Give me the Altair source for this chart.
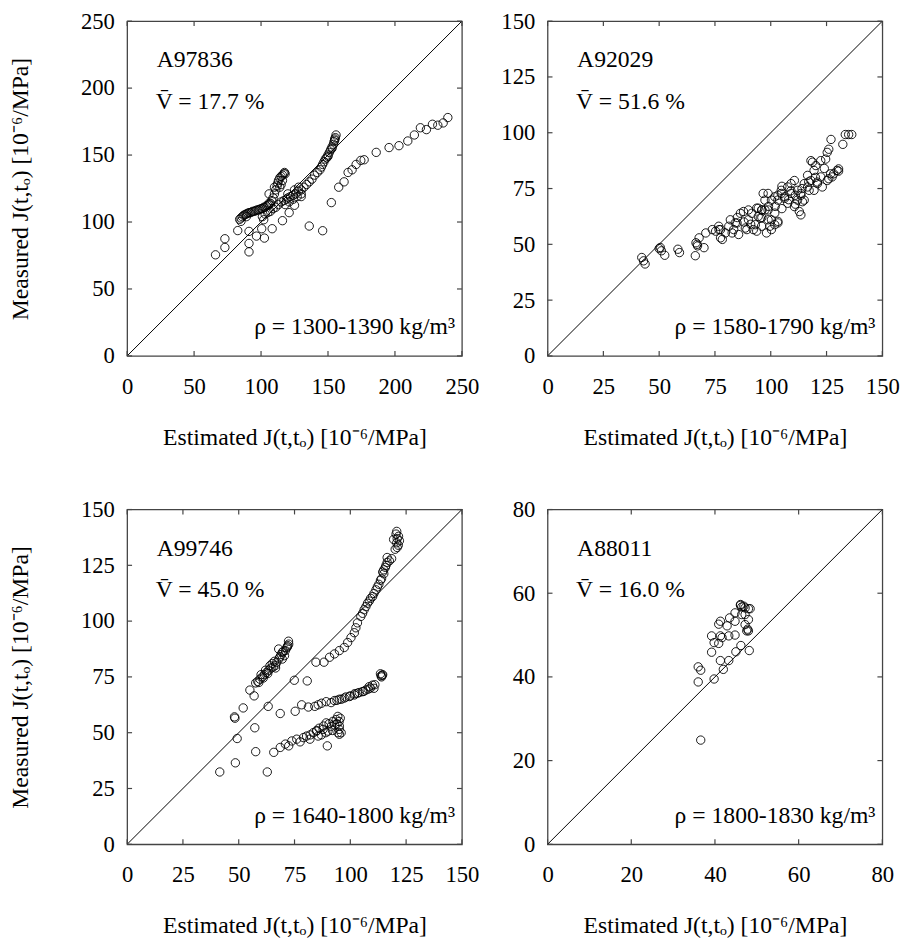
import altair as alt
import pandas as pd

FONT = "Liberation Serif"
FS = 23
FS_ANN = 24
FS_TITLE = 24
W = 340
H = 340
TICK_LEN = 5
FRAME = "#444444"

X_TITLE = "Estimated J(t,tₒ) [10⁻⁶/MPa]"
Y_TITLE = "Measured J(t,tₒ) [10⁻⁶/MPa]"

NAMES = ["A97836", "A92029", "A99746", "A88011"]
VBAR = ["17.7", "51.6", "45.0", "16.0"]
RHO = ["1300-1390", "1580-1790", "1640-1800", "1800-1830"]
DMAX = [250, 150, 150, 80]
TICKS = [
    [0, 50, 100, 150, 200, 250],
    [0, 25, 50, 75, 100, 125, 150],
    [0, 25, 50, 75, 100, 125, 150],
    [0, 20, 40, 60, 80],
]

# ---------------- Panel 1 (A97836) ----------------
P1_SCATTER = [
    (66, 75.5), (73, 81), (73, 87.5), (82.6, 93.6), (91, 77.7), (91, 84), (91, 93),
    (96.6, 89.5), (102.5, 88), (100.5, 95), (108.3, 95), (116, 101), (121, 107),
    (125, 112.5), (130, 119), (136, 97), (146, 93.5), (152.5, 114.5), (158, 126),
    (162, 130), (165, 137), (168, 139), (171, 143), (174.5, 146), (177, 146.5),
    (186, 152), (195.6, 155.6), (203, 157), (209.6, 160.5), (214.5, 165), (219, 170.4),
    (223.5, 169), (228, 173), (232, 172.3), (236, 174), (239.5, 178), (85, 100.5),
    (89, 104), (102, 101.7), (106, 114), (106, 121), (110, 126),
]
P1_BRANCH_A = [
    (84, 102), (85, 103), (86, 104), (87, 105), (88, 105.5), (89, 106), (90, 106.5),
    (91, 107), (92, 107), (93, 107.5), (94, 108), (95, 108), (96, 108.5), (97, 109),
    (98, 109), (99, 109.5), (100, 110), (101, 110), (102, 111), (103, 111), (104, 112),
    (105, 112.5), (106, 113), (107, 114), (108, 116), (109, 118), (110, 121), (111, 124),
    (112, 127), (112.5, 129), (113, 131), (114, 133), (115, 134), (116, 135), (117, 136),
    (117.5, 137), (118, 136), (116, 131), (115, 128), (114, 126),
]
P1_BRANCH_B = [
    (101, 104), (103, 106), (105, 107), (107, 108), (109, 110), (111, 111), (113, 113),
    (115, 115), (117, 116), (119, 117), (120, 118), (122, 119), (124, 120), (126, 121),
    (128, 123), (130, 124), (132, 126), (134, 128), (136, 130), (138, 132), (140, 135),
    (142, 137), (144, 139), (145, 141), (146, 143), (147, 145), (148, 147), (149, 148),
    (150, 150), (151, 152), (152, 154), (153, 156), (154, 158), (154.5, 160), (155, 162),
    (155.5, 163), (156, 165), (155, 161), (153, 155), (150, 149), (118, 113), (121, 115),
    (124, 117), (127, 119), (130, 121), (120, 121), (125, 124), (128, 126),
]

# ---------------- Panel 2 (A92029) ----------------
P2_LOW = [
    (42.2, 44.1), (43.0, 42.6), (43.7, 41.2), (50.0, 48.1), (51.0, 47.1), (52.5, 45.1),
    (50.5, 48.6), (58.4, 47.8), (59.1, 46.3), (66.5, 50.7), (67.2, 49.3), (66.2, 44.9),
    (70.1, 48.5), (67.9, 52.9), (70.9, 55.1), (67.0, 50.0),
]
P2_MID = [
    (75.3, 55.9), (77.5, 56.6), (76.7, 58.1), (78.3, 52.2), (79.7, 55.1), (81.2, 58.1),
    (81.9, 61.0), (83.4, 56.6), (84.1, 59.6), (85.6, 54.4), (86.4, 63.9), (87.8, 64.7),
    (88.6, 57.3), (90.0, 61.0), (91.5, 63.9), (92.2, 56.6), (93.7, 66.2), (93.1, 58.8),
    (95.3, 61.8), (96.1, 65.4), (96.6, 72.8), (73.8, 56.6), (76.8, 56.6), (77.5, 52.9),
    (82.7, 55.1), (84.9, 59.6), (89.3, 56.6), (90.0, 65.4), (93.7, 55.9), (94.4, 66.2),
    (97.4, 65.4), (98.1, 55.1), (98.8, 61.0), (100.3, 56.6), (101.8, 58.8), (103.2, 60.3),
    (85, 62), (88, 60), (91, 59), (96, 62),
]
P2_HIGH = [
    (98.8, 72.8), (97.4, 69.8), (95.9, 65.4), (94.4, 62.5), (98.8, 65.4), (101.8, 64.0),
    (100.3, 61.0), (103.2, 59.6), (99.6, 58.1), (95.9, 58.1), (112.0, 69.8), (114.2, 69.1),
    (112.8, 64.7), (110.6, 66.9), (107.6, 68.4), (106.2, 71.3), (104.7, 72.8), (103.2, 69.8),
    (101.8, 71.3), (113.5, 63.2), (110.6, 78.6), (109.1, 77.2), (107.6, 75.7), (116.5, 80.9),
    (115.0, 77.2), (117.2, 74.2), (113.5, 72.8), (122.4, 80.2), (120.9, 77.9), (123.1, 75.7),
    (128.2, 81.6), (129.7, 83.1), (130.4, 82.8), (127.5, 80.2), (126.0, 79.4), (118.7, 86.8),
    (120.2, 85.3), (119.4, 83.1), (124.6, 88.2), (126.0, 92.6), (125.3, 91.2), (127.0, 97.0),
    (132.3, 94.8), (133.4, 99.2), (134.9, 99.2), (136.3, 99.2), (100.3, 69.8), (103.2, 72.0),
    (104.7, 74.2), (106.2, 70.6), (109.1, 72.8), (112.0, 74.2), (113.5, 72.0), (115.0, 69.8),
    (116.5, 75.7), (118.0, 78.6), (119.4, 74.2), (120.9, 77.2), (118.0, 87.5), (122.4, 87.5),
    (125.3, 78.6), (126.8, 81.6), (130.4, 83.8), (99, 67), (102, 67), (105, 66), (108, 70),
    (111, 72), (114, 75), (117, 78), (120, 80), (124, 84), (105, 76), (109, 74), (111, 68),
]

# ---------------- Panel 3 (A99746) ----------------
P3_SCATTER = [
    (41.5, 32.4), (48.5, 36.5), (62.8, 32.4), (57.6, 41.5), (49.3, 47.4), (57.2, 52.2),
    (48.1, 57.1), (48.3, 56.5), (52, 61.1), (63.2, 61.8), (68.6, 58.6), (75.3, 59.6),
    (74.9, 73.5), (80.7, 73.2), (55, 69.1), (56.9, 66.5),
]
P3_UPPER_LEFT = [
    (57.6, 72.3), (58.5, 73), (59.5, 74), (60.6, 75), (61.5, 76), (62.5, 77), (63.5, 78),
    (64.5, 79), (65.5, 79.5), (66.5, 80.2), (67, 81.5), (68, 83.1), (68.5, 84), (69, 85),
    (69.5, 86), (70, 86.5), (70.9, 86.8), (71.5, 88), (72, 89), (72.4, 89.7), (72.3, 91),
    (71.8, 88.5), (70.5, 84.5), (69.5, 83), (66, 82), (64, 80), (62, 78), (60, 76),
    (67.9, 87.5), (66.5, 79), (65, 81), (63, 76.5), (61, 74.5), (59, 72.5),
]
P3_UPPER_RIGHT = [
    (84.6, 81.6), (88.2, 81.6), (90.7, 83.8), (92.9, 85.3), (95.1, 86.8), (97.3, 88.2),
    (98.8, 90.4), (100.3, 92.6), (101.8, 94.8), (102.5, 97), (103.2, 99.2), (104.7, 102.1),
    (106.2, 105.1), (107.7, 108), (109.1, 110.2), (110.6, 112.4), (112.1, 115.3),
    (113.5, 118.3), (115, 121.2), (115.7, 124.1), (116.5, 126.3), (116.5, 128.5),
    (120.1, 132.2), (120.8, 135.1), (121.6, 138), (120.8, 140.2), (119.4, 136.6),
    (105.5, 103.5), (107, 106.5), (108.5, 109), (110, 111), (111.5, 114), (112.8, 116.5),
    (114, 119), (114.5, 122), (115, 123), (116, 125), (117.5, 127), (118.5, 128), (121, 133),
    (121.5, 134), (122, 136), (121, 137), (120.5, 139),
]
P3_MIDDLE = [
    (78.2, 62.5), (81.2, 61.5), (84.1, 61.8), (85.6, 62.5), (87.1, 63.2), (89.2, 63.9),
    (91.4, 63.5), (92.9, 64.4), (95.1, 65), (97.3, 65.5), (99.6, 66.2), (101.8, 66.9),
    (103.2, 67.7), (105.4, 68.4), (106.9, 69.1), (108.4, 70.6), (109.9, 71.3), (110.6, 69.9),
    (114.3, 75.7), (113.5, 76.4), (94, 64.5), (96, 65), (98, 66), (100, 66.5), (102, 67.5),
    (104, 68), (106, 68.5), (108, 69.5), (109, 70), (111, 71.5), (114, 75), (114.5, 76),
    (113.8, 75.5),
]
P3_LOWER = [
    (65.7, 41.2), (68.6, 43.4), (70.9, 44.9), (72.4, 44.1), (73.8, 46.3), (76, 47.1),
    (77.5, 45.9), (79, 47.8), (80.4, 48.5), (81.9, 47.1), (83.4, 50), (84.8, 50.7),
    (85.6, 48.5), (87.8, 51.5), (89.2, 54.4), (90, 50.7), (91.5, 52.9), (92.2, 55.1),
    (93.7, 55.9), (94.4, 57.3), (95.1, 52.9), (95.1, 49.3), (95.9, 50), (89.7, 44.1),
    (86, 52), (88, 53), (89, 50), (90.5, 54), (92, 51), (93, 53.5), (94, 54), (95, 55),
    (95.5, 56.5), (95, 51.5), (94.5, 50), (87, 49), (85, 51), (82, 49),
]

# ---------------- Panel 4 (A88011) ----------------
P4_POINTS = [
    (36.6, 24.9), (36, 38.8), (36, 42.4), (36.6, 41.6), (39.8, 39.5), (42, 41.8),
    (41.3, 43.9), (43.3, 43.9), (39.2, 45.9), (45, 46), (46.2, 47.5), (48.2, 46.3),
    (39.2, 49.8), (39.8, 48.2), (41.3, 49.8), (40.9, 48), (41.7, 49.4), (43.3, 49.8),
    (44.8, 50), (42.9, 52.2), (40.9, 52.6), (41.3, 53.3), (43.5, 54.1), (44.8, 53.3),
    (44.8, 55.3), (46.4, 54.9), (47.2, 54.9), (47.2, 52.5), (48, 53.7), (47.8, 51.4),
    (47.6, 51), (48, 51), (46.1, 57.1), (46.4, 56.7), (47.2, 56.5), (48, 56.3),
    (48.4, 56.3), (46.1, 57.3), (46.9, 56.9),
]

PANEL_POINTS = [
    P1_SCATTER + P1_BRANCH_A + P1_BRANCH_B,
    P2_LOW + P2_MID + P2_HIGH,
    P3_SCATTER + P3_UPPER_LEFT + P3_UPPER_RIGHT + P3_MIDDLE + P3_LOWER,
    P4_POINTS,
]


def panel(i, left):
    dmax = DMAX[i]
    sc = alt.Scale(domain=[0, dmax], nice=False, zero=True)
    pts = pd.DataFrame(PANEL_POINTS[i], columns=["x", "y"])

    common = dict(
        values=TICKS[i], ticks=False, tickSize=0, domain=False, grid=False,
        labelFont=FONT, labelFontSize=FS, labelColor="black",
        labelFlush=False, labelOverlap=False,
    )
    xaxis = alt.Axis(
        labelPadding=20,
        title=X_TITLE, titleFont=FONT, titleFontSize=FS_TITLE, titleFontWeight="normal",
        titleColor="black", titleX=W / 2, titleY=83, titleBaseline="middle",
        **common,
    )
    if left:
        yaxis = alt.Axis(
            labelPadding=13,
            title=Y_TITLE, titleFont=FONT, titleFontSize=FS_TITLE, titleFontWeight="normal",
            titleColor="black", titleX=-108, titleY=H / 2, titleBaseline="middle",
            **common,
        )
    else:
        yaxis = alt.Axis(labelPadding=13, title=None, **common)

    points = alt.Chart(pts).mark_point(
        shape="circle", filled=False, color="black", size=72, strokeWidth=0.9, opacity=1
    ).encode(
        x=alt.X("x:Q", scale=sc, axis=xaxis),
        y=alt.Y("y:Q", scale=sc, axis=yaxis),
    )

    diag_df = pd.DataFrame({"x": [0], "y": [0], "x2": [dmax], "y2": [dmax]})
    diag = alt.Chart(diag_df).mark_rule(color="black", strokeWidth=1).encode(
        x=alt.X("x:Q", scale=sc, axis=xaxis),
        y=alt.Y("y:Q", scale=sc, axis=yaxis),
        x2="x2:Q", y2="y2:Q",
    )

    xt = pd.DataFrame({"x": TICKS[i]})
    yt = pd.DataFrame({"y": TICKS[i]})
    tick_style = dict(color=FRAME, strokeWidth=1.2)
    t_bottom = alt.Chart(xt).mark_rule(**tick_style).encode(
        x=alt.X("x:Q", scale=sc, axis=xaxis), y=alt.value(H), y2=alt.value(H - TICK_LEN))
    t_top = alt.Chart(xt).mark_rule(**tick_style).encode(
        x=alt.X("x:Q", scale=sc, axis=xaxis), y=alt.value(0), y2=alt.value(TICK_LEN))
    t_left = alt.Chart(yt).mark_rule(**tick_style).encode(
        y=alt.Y("y:Q", scale=sc, axis=yaxis), x=alt.value(0), x2=alt.value(TICK_LEN))
    t_right = alt.Chart(yt).mark_rule(**tick_style).encode(
        y=alt.Y("y:Q", scale=sc, axis=yaxis), x=alt.value(W), x2=alt.value(W - TICK_LEN))

    txt_style = dict(font=FONT, fontSize=FS_ANN, color="black", baseline="alphabetic")
    name_t = alt.Chart(pd.DataFrame({"t": [NAMES[i]]})).mark_text(align="left", **txt_style).encode(
        x=alt.value(30), y=alt.value(47), text="t:N")
    v_t = alt.Chart(pd.DataFrame({"t": ["V̄  =  " + VBAR[i] + " %"]})).mark_text(align="left", **txt_style).encode(
        x=alt.value(29), y=alt.value(89), text="t:N")
    rho_t = alt.Chart(pd.DataFrame({"t": ["ρ  =  " + RHO[i] + " kg/m³"]})).mark_text(align="right", **txt_style).encode(
        x=alt.value(333), y=alt.value(318), text="t:N")

    return alt.layer(diag, points, t_bottom, t_top, t_left, t_right, name_t, v_t, rho_t).properties(
        width=W, height=H)


chart = alt.concat(
    panel(0, True), panel(1, False), panel(2, True), panel(3, False),
    columns=2, spacing={"row": 156, "column": 87}, bounds="flush",
).properties(
    padding={"left": 0, "top": -6, "right": 4, "bottom": 4}
).configure_view(stroke=FRAME, strokeWidth=1.3)

chart.save("out.html", embed_options={"renderer": "svg", "actions": False})
